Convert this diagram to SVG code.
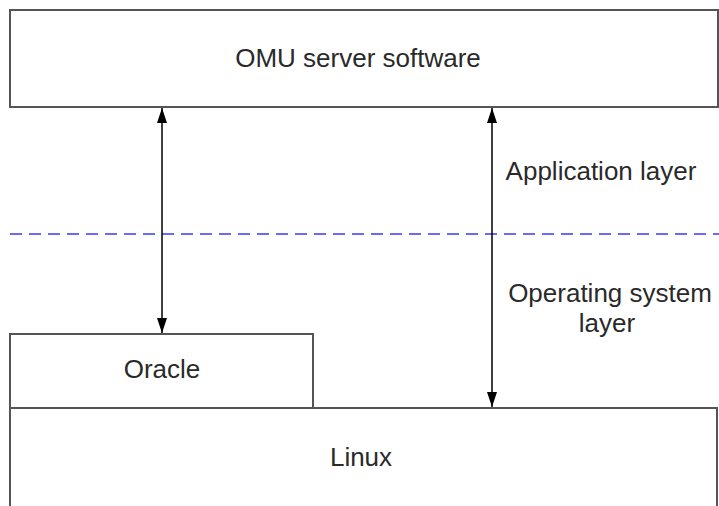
<svg xmlns="http://www.w3.org/2000/svg" width="719" height="506" viewBox="0 0 719 506">
<style>
.box{fill:#fff;stroke:#555;stroke-width:2}
.t{font-family:"Liberation Sans",Arial,sans-serif;font-size:26px;fill:#2a2a2a;text-anchor:middle}
.c{stroke:#000;stroke-width:1.5;fill:none}
</style>
<defs>
<marker id="ah" viewBox="0 0 15 10" refX="15" refY="5" markerWidth="15" markerHeight="10" markerUnits="userSpaceOnUse" orient="auto-start-reverse">
<path d="M0,0 L15,5 L0,10 z" fill="#000"/>
</marker>
</defs>
<rect width="719" height="506" fill="#fff"/>
<line x1="10" y1="234" x2="719" y2="234" stroke="#3a3aee" stroke-width="1.5" stroke-dasharray="12,7"/>
<g id="omu">
<rect class="box" x="10" y="10" width="708" height="97"/>
<text class="t" x="358" y="67">OMU server software</text>
</g>
<g id="oracle">
<rect class="box" x="10" y="334" width="303" height="74"/>
<text class="t" x="162" y="378">Oracle</text>
</g>
<g id="linux">
<rect class="box" x="10" y="408" width="707" height="100"/>
<text class="t" x="361" y="466">Linux</text>
</g>
<g id="labels">
<text class="t" x="601" y="180">Application layer</text>
<text class="t" x="610" y="302">Operating system</text>
<text class="t" x="607" y="332">layer</text>
</g>
<g id="connectors">
<line class="c" x1="162" y1="108" x2="162" y2="333" marker-start="url(#ah)" marker-end="url(#ah)"/>
<line class="c" x1="492" y1="108" x2="492" y2="407" marker-start="url(#ah)" marker-end="url(#ah)" stroke="#333"/>
</g>
</svg>
